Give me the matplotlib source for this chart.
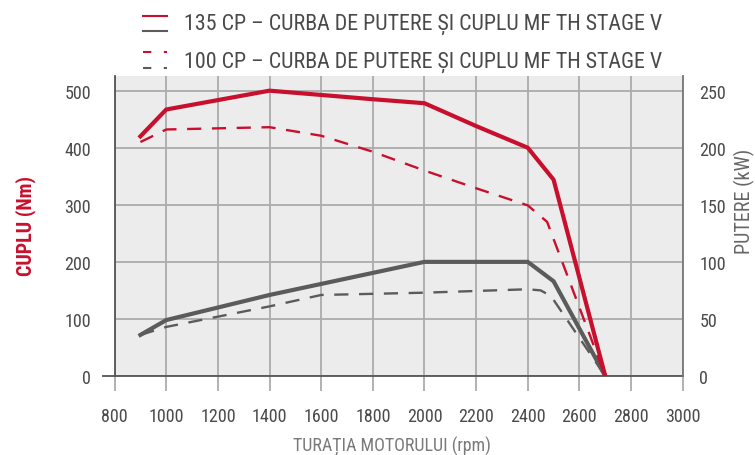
import matplotlib
matplotlib.use("Agg")
import matplotlib.pyplot as plt
from matplotlib.lines import Line2D

plt.rcParams['font.family'] = ['Roboto Condensed', 'Liberation Sans Narrow', 'DejaVu Sans']

# --- data ---
rpm_t135 = [900, 1000, 1400, 1800, 2000, 2200, 2400, 2500, 2700]
torque_135 = [420, 467, 500, 485, 478, 438, 400, 344, 0]          # Nm

rpm_t100 = [900, 1000, 1200, 1400, 1600, 1800, 2000, 2200, 2400, 2475, 2700]
torque_100 = [410, 432, 434, 436, 421, 393, 360, 329, 299, 270, 0]  # Nm

rpm_p135 = [900, 1000, 1200, 1400, 2000, 2400, 2500, 2700]
power_135 = [36, 49, 60, 71, 100, 100, 83, 0]                        # kW

rpm_p100 = [900, 1000, 1200, 1400, 1600, 1800, 2000, 2200, 2400, 2450, 2490, 2700]
power_100 = [36, 43, 52, 61, 71, 72, 73, 74.5, 76, 75, 70, 0]        # kW

x_ticks = [800, 1000, 1200, 1400, 1600, 1800, 2000, 2200, 2400, 2600, 2800, 3000]
y_ticks_left = [0, 100, 200, 300, 400, 500]
y_ticks_right = [0, 50, 100, 150, 200, 250]

legend_labels = ["135 CP – CURBA DE PUTERE ȘI CUPLU MF TH STAGE V",
                 "100 CP – CURBA DE PUTERE ȘI CUPLU MF TH STAGE V"]

RED = "#c8102e"
GRAY = "#5b5b5b"
TXT = "#4a4a4a"
GRID = "#ababab"

W, H = 755, 456
fig = plt.figure(figsize=(W / 100, H / 100), dpi=100)
ax = fig.add_axes([114.6 / W, 1 - 377 / H, (682.7 - 114.6) / W, (377 - 77.4) / H])
ax.set_facecolor("#ececec")
ax.set_xlim(800, 3000)
ax.set_ylim(0, 525)
ax_p = ax.twinx()              # power axis (right), gray curves
ax_p.set_ylim(0, 262.5)
ax_t = ax.twinx()              # torque curves on top, same scale as left axis
ax_t.set_ylim(0, 525)
ax_t.yaxis.set_visible(False)

ax.set_xticks(x_ticks)
ax.set_yticks(y_ticks_left)
ax_p.set_yticks(y_ticks_right)
ax.grid(True, color=GRID, lw=1.3, zorder=0)
ax.set_axisbelow(True)

ax.tick_params(axis='x', direction='out', length=11, width=1.3, color=GRID,
               labelsize=13, labelcolor=TXT, pad=11)
ax.tick_params(axis='y', length=0, labelsize=13, labelcolor=TXT, pad=17)
ax_p.tick_params(axis='y', length=0, labelsize=13, labelcolor=TXT, pad=12)

for a in (ax, ax_p, ax_t):
    for s in a.spines.values():
        s.set_visible(False)
ax.spines['left'].set_visible(True)
ax.spines['left'].set_color("#555555")
ax.spines['left'].set_linewidth(1.3)
ax.spines['bottom'].set_visible(True)
ax.spines['bottom'].set_color("#555555")
ax.spines['bottom'].set_linewidth(1.3)
ax_p.spines['right'].set_visible(True)
ax_p.spines['right'].set_color("#777777")
ax_p.spines['right'].set_linewidth(1.3)
# small outward tick at zero on the left
ax.plot([-0.021, 0], [0, 0], transform=ax.transAxes, color="#555555", lw=1.3, clip_on=False)

# lines
ax_p.plot(rpm_p100, power_100, color=GRAY, lw=1.7, dashes=(6, 4.5), zorder=3)
ax_p.plot(rpm_p135, power_135, color=GRAY, lw=3.0, zorder=4, solid_joinstyle='miter')
ax_t.plot(rpm_t100, torque_100, color=RED, lw=1.7, dashes=(6, 4.5), zorder=5)
ax_t.plot(rpm_t135, torque_135, color=RED, lw=3.0, zorder=6, solid_joinstyle='miter')

# axis labels
fig.text(26 / W, 1 - 226 / H, "CUPLU (Nm)", rotation=90, color=RED, fontsize=14.5,
         fontweight='bold', ha='center', va='center')
fig.text(744 / W, 1 - 201 / H, "PUTERE (kW)", rotation=90, color="#666666", fontsize=14.5,
         ha='center', va='center')
fig.text(392 / W, 1 - 446 / H, "TURAȚIA MOTORULUI (rpm)", color="#7a7a7a", fontsize=13,
         ha='center', va='center')

# legend (manual)
def hline(x0, x1, y, color, lw, dashed=False):
    kw = dict(color=color, lw=lw, transform=fig.transFigure)
    if dashed:
        kw['dashes'] = (4, 6)
    fig.add_artist(Line2D([x0 / W, x1 / W], [1 - y / H, 1 - y / H], **kw))

hline(142.5, 167, 16.7, RED, 1.5)
hline(142.5, 167, 31.7, GRAY, 1.5)
hline(142.5, 167, 53, RED, 1.5, dashed=True)
hline(142.5, 167, 69, GRAY, 1.5, dashed=True)
fig.text(183.8 / W, 1 - 24 / H, legend_labels[0], color=TXT, fontsize=15.8, ha='left', va='center')
fig.text(183.8 / W, 1 - 62.5 / H, legend_labels[1], color=TXT, fontsize=15.8, ha='left', va='center')

fig.savefig("out.png", dpi=100)
